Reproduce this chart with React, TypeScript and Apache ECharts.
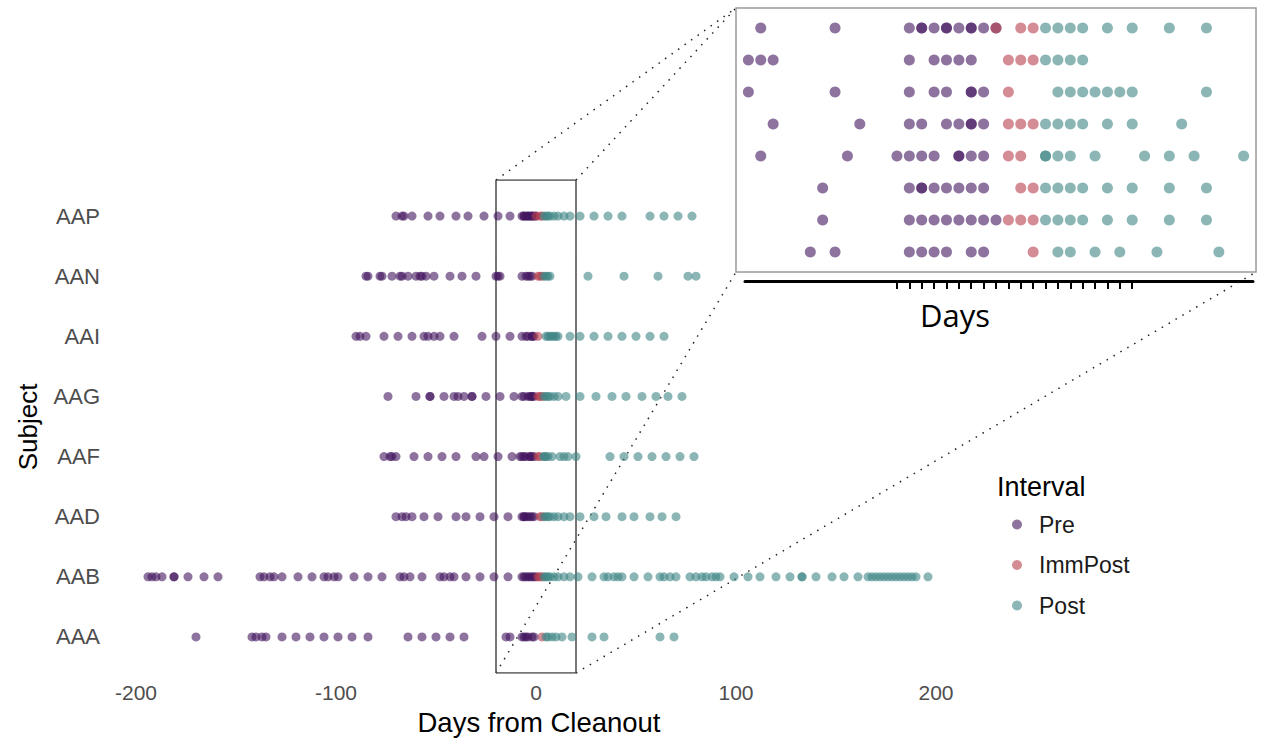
import React, { useEffect, useRef } from "react";
import * as echarts from "echarts";

const subjects = ["AAA", "AAB", "AAD", "AAF", "AAG", "AAI", "AAN", "AAP"];
const intervals = ["Pre", "ImmPost", "Post"];
const xTickLabels = [-200, -100, 0, 100, 200];
const insetTicks = [-8, -7, -6, -5, -4, -3, -2, -1, 0, 1, 2, 3, 4, 5, 6, 7, 8, 9, 10, 11];
const zoomWindow = [-20, 20];

const AAA_pre = [-170, -142, -140, -137, -135, -127, -120, -113, -106, -99, -92, -84, -64, -57, -50, -43, -36, -15, -13, -7, -6, -5, -4, -2, -1];
const AAA_imm = [3];
const AAA_post = [5, 6, 8, 10, 13, 18, 28, 34, 62, 69];

const AAB_pre = [-194, -192, -190, -187, -181, -181, -174, -166, -159, -138, -136, -133, -131, -127, -119, -112, -106, -104, -101, -99, -91, -84, -77, -68, -66, -63, -57, -48, -46, -43, -41, -35, -28, -21, -14, -7, -6, -5, -4, -3, -2, -1, 0];
const AAB_imm = [1, 2, 3];
const AAB_post = [4, 5, 6, 7, 9, 11, 14, 17, 21, 28, 34, 36, 39, 41, 43, 49, 56, 62, 64, 67, 70, 77, 80, 83, 85, 88, 90, 92, 99, 106, 112, 120, 127, 133, 133, 140, 148, 154, 161, 166, 168, 170, 172, 174, 176, 178, 180, 182, 184, 186, 188, 190, 196];

const AAD_pre = [-70, -67, -65, -62, -56, -49, -40, -35, -28, -21, -14, -7, -6, -6, -5, -4, -3, -2, -1];
const AAD_imm = [2, 3];
const AAD_post = [4, 5, 6, 7, 9, 11, 14, 17, 22, 29, 35, 43, 49, 57, 63, 70];

const AAF_pre = [-76, -73, -72, -70, -61, -54, -47, -40, -30, -26, -19, -12, -8, -7, -6, -5, -3, -3, -2, -1];
const AAF_imm = [1, 2];
const AAF_post = [4, 4, 5, 6, 8, 12, 14, 16, 20, 37, 44, 51, 58, 65, 72, 79];

const AAG_pre = [-74, -60, -53, -53, -46, -41, -39, -36, -32, -32, -25, -18, -11, -7, -6, -4, -3, -2, -2, -1];
const AAG_imm = [1, 2, 3];
const AAG_post = [4, 5, 6, 7, 9, 11, 15, 22, 30, 38, 45, 53, 60, 66, 73];

const AAI_pre = [-90, -88, -85, -76, -69, -62, -56, -54, -51, -48, -41, -27, -20, -13, -7, -5, -4, -2, -2, -1];
const AAI_imm = [1];
const AAI_post = [5, 6, 7, 8, 9, 10, 11, 17, 22, 29, 36, 43, 50, 57, 64];

const AAN_pre = [-85, -84, -78, -77, -72, -68, -67, -64, -60, -58, -57, -55, -51, -43, -37, -30, -20, -19, -18, -7, -5, -4, -3, -2];
const AAN_imm = [1, 2, 3];
const AAN_post = [4, 5, 6, 7, 26, 44, 61, 76, 80];

const AAP_pre = [-70, -67, -66, -62, -54, -48, -40, -34, -26, -19, -13, -7, -6, -6, -5, -4, -4, -3, -2, -2, -1, 0];
const AAP_imm = [0, 2, 3];
const AAP_post = [4, 5, 6, 7, 9, 11, 14, 17, 22, 29, 36, 43, 57, 64, 71, 78];

const preDays = [AAA_pre, AAB_pre, AAD_pre, AAF_pre, AAG_pre, AAI_pre, AAN_pre, AAP_pre];
const immDays = [AAA_imm, AAB_imm, AAD_imm, AAF_imm, AAG_imm, AAI_imm, AAN_imm, AAP_imm];
const postDays = [AAA_post, AAB_post, AAD_post, AAF_post, AAG_post, AAI_post, AAN_post, AAP_post];

const colors = ["#42165f", "#b8404f", "#3f8585"];
const FONT = "'Liberation Sans', Arial, Helvetica, sans-serif";

function toPoints(groups: number[][], lo = -Infinity, hi = Infinity) {
  const out: number[][] = [];
  groups.forEach((arr, i) => {
    arr.forEach((d) => {
      if (d >= lo && d <= hi) out.push([d, i + 1]);
    });
  });
  return out;
}

export default function App() {
  const ref = useRef<HTMLDivElement>(null);
  useEffect(() => {
    if (!ref.current) return;
    const chart = echarts.init(ref.current, null, { renderer: "svg" });
    const groups = [preDays, immDays, postDays];
    const INSET_MIN = -21;
    const INSET_MAX = 21;
    const insetLeft = 736;
    const insetTop = 8;
    const insetWidth = 520;
    const insetHeight = 264;
    const pxPerDay = insetWidth / (INSET_MAX - INSET_MIN);
    const axLeft = 745;
    const axWidth = 508;

    const mainSeries = groups.map((g, k) => ({
      type: "scatter",
      name: intervals[k],
      xAxisIndex: 0,
      yAxisIndex: 0,
      symbolSize: 9,
      data: toPoints(g),
      itemStyle: { color: colors[k], opacity: 0.6 },
      z: 3,
    }));
    const insetSeries = groups.map((g, k) => ({
      type: "scatter",
      name: intervals[k],
      xAxisIndex: 1,
      yAxisIndex: 1,
      symbolSize: 11,
      data: toPoints(g, zoomWindow[0], zoomWindow[1]),
      itemStyle: { color: colors[k], opacity: 0.6 },
      z: 6,
    }));

    const option: any = {
      animation: false,
      textStyle: { fontFamily: FONT },
      title: {
        text: "Interval",
        left: 992,
        top: 468,
        textStyle: { fontSize: 27, fontWeight: "normal", color: "#000", fontFamily: FONT },
      },
      legend: {
        data: intervals,
        orient: "vertical",
        left: 1007,
        top: 508,
        itemWidth: 34,
        itemHeight: 10,
        itemGap: 17.5,
        icon: "circle",
        textStyle: { fontSize: 23, color: "#1a1a1a", fontFamily: FONT },
      },
      grid: [
        { left: 100, top: 180, width: 872, height: 493, show: false, outerBoundsMode: "none", containLabel: false },
        {
          left: insetLeft,
          top: insetTop,
          width: insetWidth,
          height: insetHeight,
          show: true,
          borderColor: "#9a9a9a",
          borderWidth: 1.5,
          backgroundColor: "#ffffff",
          z: 5,
          outerBoundsMode: "none",
        },
        { left: axLeft, top: 200, width: axWidth, height: 81, show: false, outerBoundsMode: "none" },
      ],
      xAxis: [
        {
          gridIndex: 0,
          type: "value",
          min: -218,
          max: 218,
          axisLine: { show: false },
          axisTick: { show: false },
          splitLine: { show: false },
          axisLabel: { customValues: xTickLabels, fontSize: 21, color: "#4d4d4d", margin: 9 },
        },
        { gridIndex: 1, type: "value", min: INSET_MIN, max: INSET_MAX, show: false },
        {
          gridIndex: 2,
          type: "value",
          min: INSET_MIN + (axLeft - insetLeft) / pxPerDay,
          max: INSET_MIN + (axLeft + axWidth - insetLeft) / pxPerDay,
          axisLine: { show: true, lineStyle: { color: "#000", width: 3 } },
          axisTick: { show: true, customValues: insetTicks, length: 8, lineStyle: { color: "#000", width: 2 } },
          axisLabel: { show: false },
          splitLine: { show: false },
        },
      ],
      yAxis: [
        {
          gridIndex: 0,
          type: "value",
          min: 0.4,
          max: 8.6,
          axisLine: { show: false },
          axisTick: { show: false },
          splitLine: { show: false },
          axisLabel: {
            customValues: [1, 2, 3, 4, 5, 6, 7, 8],
            formatter: (v: number) => subjects[Math.round(v) - 1] || "",
            fontSize: 22,
            color: "#4d4d4d",
            margin: 0,
          },
        },
        { gridIndex: 1, type: "value", min: 0.375, max: 8.625, show: false },
        { gridIndex: 2, type: "value", min: 0, max: 1, show: false },
      ],
      series: [
        ...mainSeries,
        {
          type: "line",
          name: "window",
          xAxisIndex: 0,
          yAxisIndex: 0,
          symbol: "none",
          silent: true,
          data: [
            [zoomWindow[0], 0.4],
            [zoomWindow[1], 0.4],
            [zoomWindow[1], 8.6],
            [zoomWindow[0], 8.6],
            [zoomWindow[0], 0.4],
          ],
          lineStyle: { color: "#4a4a4a", width: 1.5 },
          z: 2,
        },
        ...insetSeries,
      ],
    };
    chart.setOption(option);

    const tl = chart.convertToPixel({ gridIndex: 0 }, [zoomWindow[0], 8.6]) as number[];
    const tr = chart.convertToPixel({ gridIndex: 0 }, [zoomWindow[1], 8.6]) as number[];
    const bl = chart.convertToPixel({ gridIndex: 0 }, [zoomWindow[0], 0.4]) as number[];
    const br = chart.convertToPixel({ gridIndex: 0 }, [zoomWindow[1], 0.4]) as number[];
    const itl = [insetLeft, insetTop];
    const ibl = [insetLeft, insetTop + insetHeight];
    const ibr = [insetLeft + insetWidth, insetTop + insetHeight];
    const dotted = { stroke: "#222", lineWidth: 1.5, lineDash: [1.5, 6.5] };
    chart.setOption({
      graphic: [
        { type: "line", shape: { x1: tl[0], y1: tl[1], x2: itl[0], y2: itl[1] }, style: dotted, z: 1 },
        { type: "line", shape: { x1: tr[0], y1: tr[1], x2: itl[0], y2: itl[1] }, style: dotted, z: 1 },
        { type: "line", shape: { x1: bl[0], y1: bl[1], x2: ibl[0], y2: ibl[1] }, style: dotted, z: 1 },
        { type: "line", shape: { x1: br[0], y1: br[1], x2: ibr[0], y2: ibr[1] }, style: dotted, z: 1 },
        {
          type: "text",
          x: 539,
          y: 722,
          style: {
            text: "Days from Cleanout",
            fontSize: 27.5,
            fontFamily: FONT,
            fill: "#000",
            align: "center",
            verticalAlign: "middle",
          },
        },
        {
          type: "text",
          x: 28,
          y: 427,
          rotation: Math.PI / 2,
          style: {
            text: "Subject",
            fontSize: 26,
            fontFamily: FONT,
            fill: "#000",
            align: "center",
            verticalAlign: "middle",
          },
        },
        {
          type: "text",
          x: 955,
          y: 315,
          style: {
            text: "Days",
            fontSize: 31,
            fontFamily: "'Open Sans', 'Noto Sans', sans-serif",
            fill: "#000",
            align: "center",
            verticalAlign: "middle",
          },
        },
      ],
    });
    return () => chart.dispose();
  }, []);
  return (
    <div
      ref={ref}
      style={{ position: "absolute", left: 0, top: 0, width: 1261, height: 740 }}
    />
  );
}
